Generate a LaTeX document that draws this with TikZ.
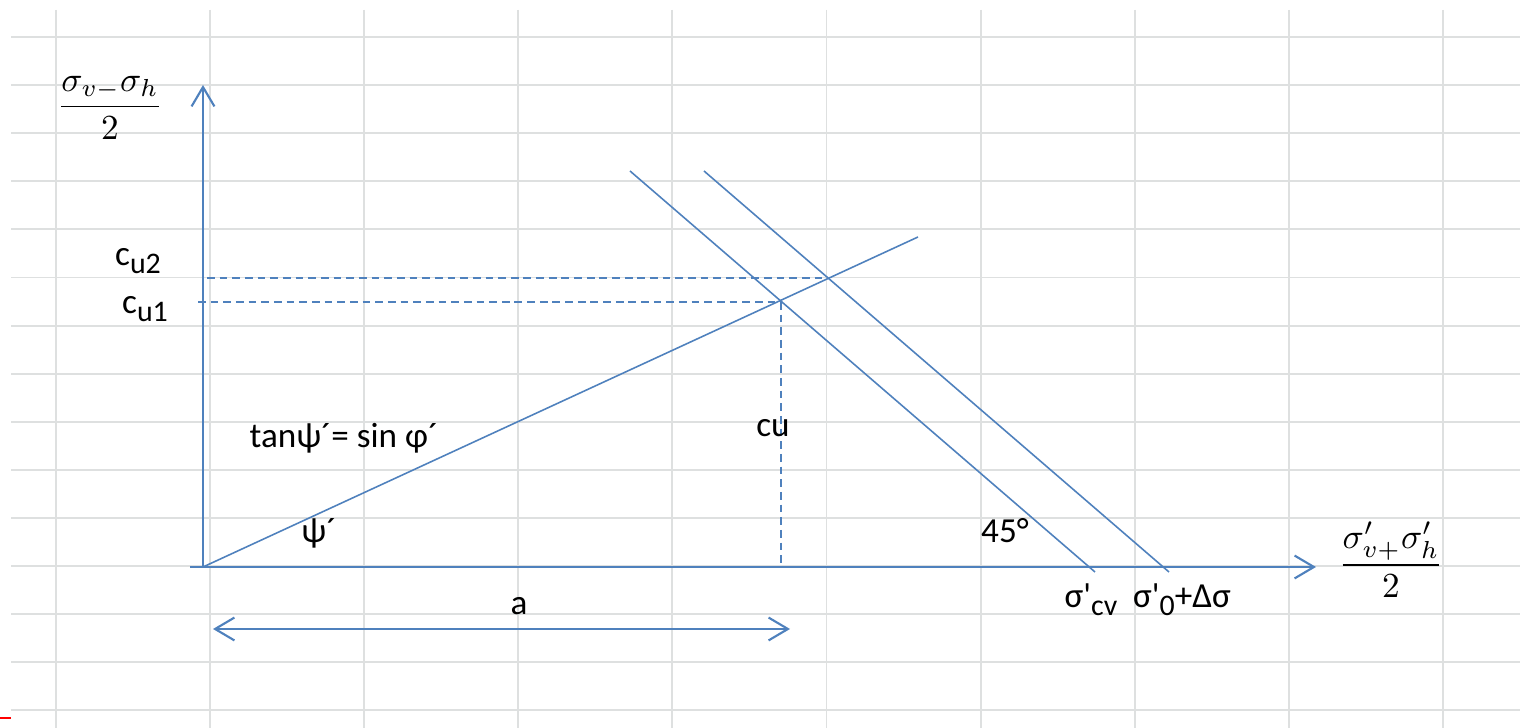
\documentclass[tikz,border=0pt]{standalone}
\usepackage{fontspec}
\setmainfont{Carlito}[Ligatures=TeXOff]
\usetikzlibrary{arrows.meta}
\definecolor{ln}{RGB}{79,129,189}
\definecolor{gridc}{RGB}{222,224,224}
\begin{document}
\begin{tikzpicture}[x=0.01cm,y=-0.01cm,
  gridline/.style={draw=gridc,line width=0.55pt},
  bl/.style={draw=ln,line width=0.45pt},
  axis/.style={draw=ln,line width=0.6pt},
  dsh/.style={draw=ln,line width=0.5pt,dash pattern=on 2.2pt off 1.4pt},
  tip/.style={-{Straight Barb[length=5.5pt,width=6.5pt,line width=0.6pt]}},
  dtip/.style={{Straight Barb[length=5.5pt,width=6.5pt,line width=0.6pt]}-{Straight Barb[length=5.5pt,width=6.5pt,line width=0.6pt]}},
  lbl/.style={inner sep=0pt,font=\fontsize{10}{12}\selectfont},
]
\useasboundingbox (0,0) rectangle (1520,728);
\fill[white] (0,0) rectangle (1520,728);
% grid
\foreach \k in {0,...,9} \draw[gridline] ({56+154.1*\k},10) -- ({56+154.1*\k},728);
\foreach \k in {0,...,14} \draw[gridline] (11,{37+48.1*\k}) -- (1520,{37+48.1*\k});
\draw[red,line width=0.6pt] (0,718) -- (11,718);
% coordinates
\coordinate (O) at (203,567);
\coordinate (ytop) at (203,85);
\coordinate (xl) at (190,567);
\coordinate (xr) at (1316,567);
\coordinate (k1) at (918,237);
\coordinate (p1) at (630,171);
\coordinate (p2) at (1095,572);
\coordinate (q1) at (704,171);
\coordinate (q2) at (1169,572);
\coordinate (c1) at (781,302);
\coordinate (c2) at (827,278);
\coordinate (d1) at (198,302);
\coordinate (d2) at (207,278);
\coordinate (f1) at (781,567);
\coordinate (a1) at (213,629);
\coordinate (a2) at (790,629);
% axes
\draw[axis,tip] (O) -- (ytop);
\draw[axis,tip] (xl) -- (xr);
% lines
\draw[bl] (O) -- (k1);
\draw[bl] (p1) -- (p2);
\draw[bl] (q1) -- (q2);
\draw[dsh] (d2) -- (c2);
\draw[dsh] (d1) -- (c1);
\draw[dsh] (c1) -- (f1);
\draw[axis,dtip] (a1) -- (a2);
% labels
\node[lbl] (ylab) at (110,108) {$\displaystyle\frac{\sigma_{v-}\sigma_h}{2}$};
\node[lbl] (xlab) at (1391,560) {$\displaystyle\frac{\sigma'_{v+}\sigma'_h}{2}$};
\node[lbl] (cu2) at (138,261) {c\raisebox{-0.45ex}{\fontsize{8.5}{10}\selectfont u2}};
\node[lbl] (cu1) at (145,309) {c\raisebox{-0.45ex}{\fontsize{8.5}{10}\selectfont u1}};
\node[lbl] (tan) at (344,438) {tanψ´= sin φ´};
\node[lbl] (psi) at (319,533) {ψ´};
\node[lbl] (cu) at (773,428) {cu};
\node[lbl] (deg) at (1005,531) {45°};
\node[lbl,anchor=base] (scv) at (1091,608) {σ'\raisebox{-0.45ex}{\fontsize{8.5}{10}\selectfont cv}};
\node[lbl,anchor=base] (s0) at (1182,608) {σ'\raisebox{-0.45ex}{\fontsize{8.5}{10}\selectfont 0}+Δσ};
\node[lbl] (alab) at (519,606) {a};
\end{tikzpicture}
\end{document}
